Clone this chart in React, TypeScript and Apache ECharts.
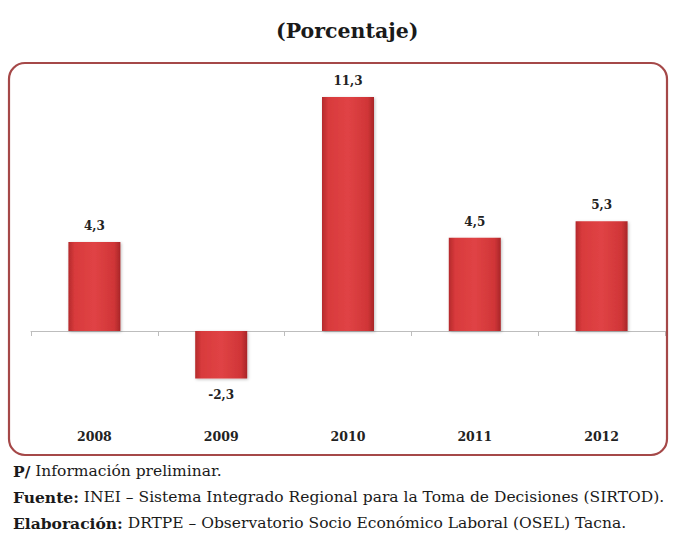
import React, { useEffect, useRef } from "react";
import * as echarts from "echarts";

const years = ["2008", "2009", "2010", "2011", "2012"];
const values = [4.3, -2.3, 11.3, 4.5, 5.3];
const title = "(Porcentaje)";
const footLines = [
  { bold: "P/", rest: " Información preliminar." },
  { bold: "Fuente:", rest: " INEI – Sistema Integrado Regional para la Toma de Decisiones (SIRTOD)." },
  { bold: "Elaboración:", rest: " DRTPE – Observatorio Socio Económico Laboral (OSEL) Tacna." },
];

const SERIF = "DejaVu Serif";

export default function App() {
  const ref = useRef<HTMLDivElement>(null);
  useEffect(() => {
    document.body.style.margin = "0";
    const chart = echarts.init(ref.current!, null, { renderer: "svg" });
    const fmt = (v: number) => v.toFixed(1).replace(".", ",");
    chart.setOption({
      animation: false,
      backgroundColor: "#ffffff",
      title: {
        text: title,
        left: 271,
        top: 15,
        textStyle: { fontFamily: SERIF, fontSize: 20.5, fontWeight: "bold", color: "#1a1a1a" },
      },
      grid: { left: 31, right: 12, top: 82.6, bottom: 122.2 },
      xAxis: [
        {
          type: "category",
          data: years,
          position: "bottom",
          axisLine: { show: false, onZero: false },
          axisTick: { show: false },
          axisLabel: {
            margin: 16,
            fontFamily: SERIF,
            fontSize: 12.5,
            fontWeight: "bold",
            color: "#222",
          },
        },
        {
          type: "category",
          data: years,
          position: "bottom",
          axisLine: { show: true, onZero: true, lineStyle: { color: "#bdbdbd", width: 1 } },
          axisTick: { show: true, length: 5, inside: false, lineStyle: { color: "#bdbdbd" } },
          axisLabel: { show: false },
        },
      ],
      yAxis: { type: "value", min: -4, max: 12, show: false, splitLine: { show: false } },
      graphic: [
        {
          type: "rect",
          shape: { x: 9, y: 63, width: 658, height: 392, r: 16 },
          style: { fill: "none", stroke: "#a54848", lineWidth: 2.2 },
          z: 10,
        },
        ...footLines.map((l, i) => ({
          type: "text",
          left: 13,
          top: 463 + i * 26,
          style: {
            text: `{b|${l.bold}}{r|${l.rest}}`,
            rich: {
              b: { fontFamily: SERIF, fontSize: 15.5, fontWeight: "bold", fill: "#1a1a1a" },
              r: { fontFamily: SERIF, fontSize: 15.5, fontWeight: "normal", fill: "#1a1a1a" },
            },
          },
        })),
      ],
      series: [
        {
          type: "bar",
          xAxisIndex: 1,
          data: values,
          barWidth: 52,
          itemStyle: {
            color: new echarts.graphic.LinearGradient(0, 0, 1, 0, [
              { offset: 0, color: "#b42a2c" },
              { offset: 0.12, color: "#d83a3c" },
              { offset: 0.5, color: "#e04345" },
              { offset: 0.88, color: "#d03537" },
              { offset: 1, color: "#a82628" },
            ]),
            shadowColor: "rgba(0,0,0,0.25)",
            shadowBlur: 3,
            shadowOffsetX: 1,
            shadowOffsetY: 1,
          },
          label: {
            show: true,
            position: "outside",
            distance: 10,
            formatter: (p: any) => fmt(p.value),
            fontFamily: SERIF,
            fontSize: 12,
            fontWeight: "bold",
            color: "#222",
          },
        },
      ],
    });
    return () => chart.dispose();
  }, []);
  return <div ref={ref} style={{ position: "absolute", left: 0, top: 0, width: 677, height: 536 }} />;
}
